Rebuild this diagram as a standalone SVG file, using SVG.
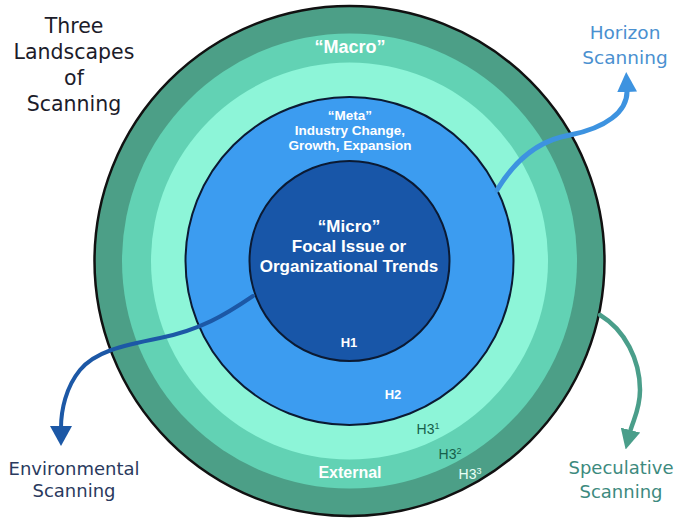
<svg xmlns="http://www.w3.org/2000/svg" width="700" height="525" viewBox="0 0 700 525">
<style>
.lbl{font-family:"DejaVu Sans","Liberation Sans",sans-serif;text-anchor:middle}
.in{font-family:"Liberation Sans",Arial,sans-serif;font-weight:bold;text-anchor:middle;fill:#ffffff}
.h3{font-family:"Liberation Sans",Arial,sans-serif;text-anchor:middle;font-size:14px}
.edge{fill:none;stroke-linecap:round}
</style>
<defs>
<marker id="ahBlue" viewBox="0 0 20 20" refX="2" refY="10" markerWidth="20" markerHeight="20" markerUnits="userSpaceOnUse" orient="auto"><path d="M0,0 L20,10 L0,20 z" fill="#3d93e0"/></marker>
<marker id="ahNavy" viewBox="0 0 20 22" refX="2" refY="11" markerWidth="20" markerHeight="22" markerUnits="userSpaceOnUse" orient="auto"><path d="M0,0 L20,11 L0,22 z" fill="#1c58a6"/></marker>
<marker id="ahTeal" viewBox="0 0 20 20" refX="2" refY="10" markerWidth="20" markerHeight="20" markerUnits="userSpaceOnUse" orient="auto"><path d="M0,0 L20,10 L0,20 z" fill="#4a9e8a"/></marker>
</defs>
<rect width="700" height="525" fill="#ffffff"/>
<g id="title">
<text class="lbl" x="74" y="33" font-size="20.5" fill="#1c1c2a">Three</text>
<text class="lbl" x="74" y="59" font-size="20.5" fill="#1c1c2a">Landscapes</text>
<text class="lbl" x="74" y="85" font-size="20.5" fill="#1c1c2a">of</text>
<text class="lbl" x="74" y="111" font-size="20.5" fill="#1c1c2a">Scanning</text>
</g>
<g id="outer-ring">
<circle cx="349.5" cy="261" r="255" fill="#4c9f87" stroke="#111111" stroke-width="2.5"/>
<text class="h3" x="470" y="479" fill="#e8fff6">H3<tspan font-size="9" dy="-5">3</tspan></text>
</g>
<g id="macro">
<circle cx="349.5" cy="261" r="227.5" fill="#62d2b4"/>
<text class="in" x="350" y="53" font-size="18" fill="#e8fff6">“Macro”</text>
<text class="in" x="350" y="478" font-size="16" fill="#e8fff6">External</text>
<text class="h3" x="450" y="459" fill="#17604a">H3<tspan font-size="9" dy="-5">2</tspan></text>
</g>
<g id="mint">
<circle cx="349.5" cy="261" r="198.5" fill="#8df5d8"/>
<text class="h3" x="428" y="434" fill="#17604a">H3<tspan font-size="9" dy="-5">1</tspan></text>
</g>
<g id="meta">
<circle cx="349.5" cy="261" r="164" fill="#3c9cf0" stroke="#0b1a33" stroke-width="2"/>
<text class="in" x="350" y="120" font-size="13.5">“Meta”</text>
<text class="in" x="350" y="135" font-size="13.5">Industry Change,</text>
<text class="in" x="350" y="150" font-size="13.5">Growth, Expansion</text>
<text class="in" x="393" y="399" font-size="13">H2</text>
</g>
<g id="micro">
<circle cx="349.5" cy="261" r="100" fill="#1856a8" stroke="#0b1a33" stroke-width="2"/>
<text class="in" x="349" y="232" font-size="17">“Micro”</text>
<text class="in" x="349" y="252" font-size="17">Focal Issue or</text>
<text class="in" x="349" y="272" font-size="17">Organizational Trends</text>
<text class="in" x="349" y="347" font-size="13">H1</text>
</g>
<g id="connectors">
<path class="edge" d="M497,190 C515,160 540,140 570,135 C605,128 628,112 627,90" stroke="#3d93e0" stroke-width="5" marker-end="url(#ahBlue)"/>
<path class="edge" d="M253,296 C225,315 200,330 160,338 C120,346 95,352 80,370 C66,387 61,410 61,428" stroke="#1c58a6" stroke-width="4" marker-end="url(#ahNavy)"/>
<path class="edge" d="M600,315 C625,330 640,360 640,390 C640,410 633,420 630,432" stroke="#4a9e8a" stroke-width="4.5" marker-end="url(#ahTeal)"/>
</g>
<g id="horizon-label">
<text class="lbl" x="625" y="39" font-size="18.5" fill="#4a90d0">Horizon</text>
<text class="lbl" x="625" y="64" font-size="18.5" fill="#4a90d0">Scanning</text>
</g>
<g id="environmental-label">
<text class="lbl" x="74" y="475" font-size="18" fill="#2a3a5e">Environmental</text>
<text class="lbl" x="74" y="497" font-size="18" fill="#2a3a5e">Scanning</text>
</g>
<g id="speculative-label">
<text class="lbl" x="621" y="474" font-size="18" fill="#3d8a7e">Speculative</text>
<text class="lbl" x="621" y="498" font-size="18" fill="#3d8a7e">Scanning</text>
</g>
</svg>
